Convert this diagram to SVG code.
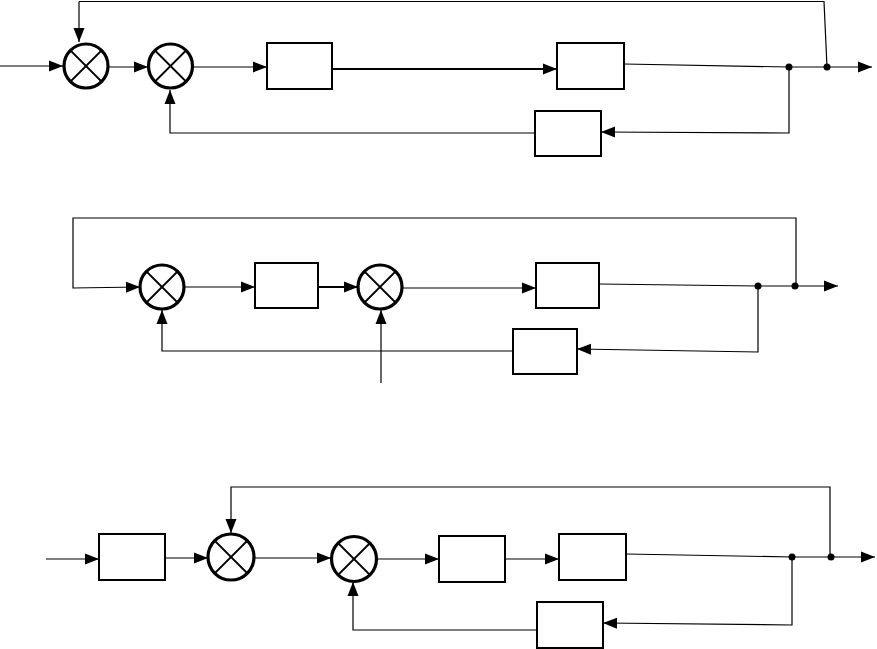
<svg xmlns="http://www.w3.org/2000/svg" width="877" height="649" viewBox="0 0 877 649">
<style>
.blk{fill:#fff;stroke:#000;stroke-width:2}
.sum{fill:#fff;stroke:#000;stroke-width:3.2}
.x{stroke:#000;stroke-width:1.8}
.ln{fill:none;stroke:#000;stroke-width:1.2}
.thk{fill:none;stroke:#000;stroke-width:2}
.dot{fill:#000}
</style>
<defs>
<marker id="ar" markerUnits="userSpaceOnUse" markerWidth="14" markerHeight="12" refX="14" refY="6" orient="auto">
<path d="M0,0.5 L14,6 L0,11.5 z" fill="#000"/>
</marker>
<g id="cross"><line class="x" x1="-15.5" y1="-15.5" x2="15.5" y2="15.5"/><line class="x" x1="-15.5" y1="15.5" x2="15.5" y2="-15.5"/></g>
</defs>
<rect width="877" height="649" fill="#fff"/>
<g id="connectors">
<polyline class="ln" points="0,66 63,66" marker-end="url(#ar)"/>
<polyline class="ln" points="79,1.5 824,1.5 827,67"/>
<line class="ln" x1="79" y1="1.5" x2="79" y2="42" marker-end="url(#ar)"/>
<polyline class="ln" points="109,67 148,67" marker-end="url(#ar)"/>
<polyline class="ln" points="193,67 267,67" marker-end="url(#ar)"/>
<polyline class="thk" points="332,69 557,69" marker-end="url(#ar)"/>
<polyline class="ln" points="624,64 789,67 827,67 872,67" marker-end="url(#ar)"/>
<polyline class="ln" points="789,67 789,133 601,132" marker-end="url(#ar)"/>
<polyline class="ln" points="535,133 170,133 170,90" marker-end="url(#ar)"/>
<polyline class="ln" points="796,286 796,218 73,218 73,288 140,287" marker-end="url(#ar)"/>
<polyline class="ln" points="184,287 255,287" marker-end="url(#ar)"/>
<polyline class="thk" points="318,287 358,287" marker-end="url(#ar)"/>
<polyline class="ln" points="381,383 381,310" marker-end="url(#ar)"/>
<polyline class="ln" points="402,288 536,288" marker-end="url(#ar)"/>
<polyline class="ln" points="599,284 758,286 795,286 838,286" marker-end="url(#ar)"/>
<polyline class="ln" points="758,286 758,352 577,349" marker-end="url(#ar)"/>
<polyline class="ln" points="513,351 162,351 162,310" marker-end="url(#ar)"/>
<polyline class="ln" points="46,559 99,559" marker-end="url(#ar)"/>
<polyline class="ln" points="165,558 208,558" marker-end="url(#ar)"/>
<polyline class="ln" points="830,557 830,487 231,487 231,533" marker-end="url(#ar)"/>
<polyline class="ln" points="254,558 331,558" marker-end="url(#ar)"/>
<polyline class="ln" points="377,559 439,559" marker-end="url(#ar)"/>
<polyline class="ln" points="505,559 559,559" marker-end="url(#ar)"/>
<polyline class="ln" points="626,554 792,557 831,557 875,557" marker-end="url(#ar)"/>
<polyline class="ln" points="792,557 792,625 603,623" marker-end="url(#ar)"/>
<polyline class="ln" points="537,630 353,630 353,582" marker-end="url(#ar)"/>
<circle class="dot" cx="789" cy="67" r="3.5"/>
<circle class="dot" cx="827" cy="67" r="3.5"/>
<circle class="dot" cx="758" cy="286" r="3.5"/>
<circle class="dot" cx="795" cy="286" r="3.5"/>
<circle class="dot" cx="792" cy="557" r="3.5"/>
<circle class="dot" cx="831" cy="557" r="3.5"/>
</g>
<g id="s1"><circle class="sum" cx="86" cy="66" r="22"/><use href="#cross" x="86" y="66"/></g>
<g id="s2"><circle class="sum" cx="170.5" cy="66" r="22"/><use href="#cross" x="170.5" y="66"/></g>
<g id="b1"><rect class="blk" x="267" y="43" width="65" height="46"/></g>
<g id="b2"><rect class="blk" x="557" y="43" width="67" height="46"/></g>
<g id="b3"><rect class="blk" x="535" y="111" width="66" height="45"/></g>
<g id="s3"><circle class="sum" cx="162" cy="287" r="22"/><use href="#cross" x="162" y="287"/></g>
<g id="b4"><rect class="blk" x="255" y="263" width="63" height="45"/></g>
<g id="s4"><circle class="sum" cx="380" cy="287" r="22"/><use href="#cross" x="380" y="287"/></g>
<g id="b5"><rect class="blk" x="536" y="263" width="63" height="45"/></g>
<g id="b6"><rect class="blk" x="513" y="329" width="64" height="45"/></g>
<g id="b7"><rect class="blk" x="99" y="534" width="66" height="46"/></g>
<g id="s5"><circle class="sum" cx="231" cy="557" r="23"/><use href="#cross" x="231" y="557"/></g>
<g id="s6"><circle class="sum" cx="354" cy="559" r="22.5"/><use href="#cross" x="354" y="559"/></g>
<g id="b8"><rect class="blk" x="439" y="536" width="66" height="46"/></g>
<g id="b9"><rect class="blk" x="559" y="534" width="67" height="46"/></g>
<g id="b10"><rect class="blk" x="537" y="602" width="66" height="46"/></g>
</svg>
